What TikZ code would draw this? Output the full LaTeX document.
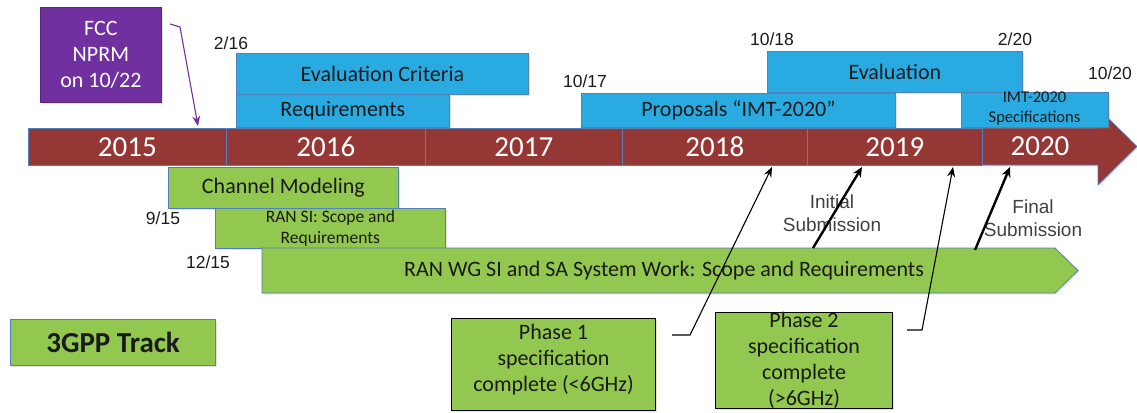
\documentclass[tikz,border=0pt]{standalone}
\usepackage{fontspec}
\setmainfont{Carlito}
\newfontfamily\arialf{Liberation Sans}
\usetikzlibrary{arrows.meta,shadows}
\definecolor{bbar}{HTML}{953735}
\definecolor{bblue}{HTML}{29ABE2}
\definecolor{bgreen}{HTML}{92C84F}
\definecolor{bpurple}{HTML}{7030A0}
\definecolor{edgeblue}{HTML}{4F81BD}
\definecolor{txt}{HTML}{1A1A1A}
\definecolor{gtxt}{HTML}{404040}
\begin{document}
\begin{tikzpicture}[x=1pt,y=-1pt,
  softshadow/.style={drop shadow={opacity=0.22, shadow xshift=1.5pt, shadow yshift=-1.5pt}},
  boxbase/.style={draw=edgeblue, line width=0.8pt, anchor=north west, inner sep=0pt, text=txt, align=center, font=\fontsize{22}{26}\selectfont, softshadow},
  bluebox/.style={boxbase, fill=bblue},
  greenbox/.style={boxbase, fill=bgreen},
  phasebox/.style={boxbase, fill=bgreen, draw=black, line width=1.1pt},
  yearseg/.style={draw=edgeblue, line width=0.6pt, fill=bbar, anchor=north west, inner sep=0pt, text=white, font=\fontsize{29}{30}\selectfont},
  datelab/.style={font=\arialf\fontsize{17.5}{20}\selectfont, text=txt, inner sep=0pt},
  sublab/.style={font=\arialf\fontsize{19}{23}\selectfont, text=gtxt, align=center, inner sep=0pt},
  thinarrow/.style={draw=black, line width=1.1pt, -{Stealth[length=10pt,width=8pt]}},
  thickarrow/.style={draw=black, line width=2.4pt, -{Stealth[length=10pt,width=9pt]}},
]
\useasboundingbox (0,0) rectangle (1137,412);

% timeline
\filldraw[fill=bbar, draw=edgeblue, line width=0.6pt, softshadow] (982,128) -- (1098,128) -- (1098,108) -- (1137,146.5) -- (1098,185) -- (1098,165) -- (982,165) -- cycle;
\node[yearseg, minimum width=198pt, minimum height=37pt] (y2015) at (28,128) {2015};
\node[yearseg, minimum width=199pt, minimum height=37pt] (y2016) at (226,128) {2016};
\node[yearseg, minimum width=197pt, minimum height=37pt] (y2017) at (425,128) {2017};
\node[yearseg, minimum width=185pt, minimum height=37pt] (y2018) at (622,128) {2018};
\node[yearseg, minimum width=175pt, minimum height=37pt] (y2019) at (807,128) {2019};
\node[text=white, font=\fontsize{29}{30}\selectfont, inner sep=0pt] (y2020) at (1040,146.5) {2020};

% FCC
\node[boxbase, fill=bpurple, draw=bpurple!80!black, text=white, minimum width=121pt, minimum height=95pt] (fcc) at (40,7) {FCC\\NPRM\\on 10/22};
\coordinate (fccA) at (170,24);
\coordinate (fccB) at (180,27);
\draw[draw=bpurple, line width=1.1pt, -{Stealth[length=10pt,width=8pt]}] (fccA) -- (fccB) -- (198,126);

% ITU track (blue)
\node[bluebox, minimum width=292pt, minimum height=41pt] (evalcrit) at (236,53) {Evaluation Criteria};
\node[bluebox, minimum width=213pt, minimum height=33pt] (req) at (236,94) {Requirements};
\node[bluebox, minimum width=314pt, minimum height=34pt] (prop) at (581,93) {Proposals “IMT-2020”};
\node[bluebox, minimum width=255pt, minimum height=41pt] (eval) at (767,51) {Evaluation};
\node[bluebox, minimum width=147pt, minimum height=35pt] (imtspec) at (961,92) {};
\node[text=txt, align=center, inner sep=0pt, font=\fontsize{16.5}{20}\selectfont] (imtspectxt) at (1034.5,108.5) {IMT-2020\\Specifications};

% dates
\node[datelab] (d216) at (231,43) {2/16};
\node[datelab] (d1017) at (585,81) {10/17};
\node[datelab] (d1018) at (772,39) {10/18};
\node[datelab] (d220) at (1015,39) {2/20};
\node[datelab] (d1020) at (1110,73) {10/20};
\node[datelab] (d915) at (163,218) {9/15};
\node[datelab] (d1215) at (208,262) {12/15};

% 3GPP track (green)
\node[greenbox, minimum width=230pt, minimum height=41pt] (chan) at (168,167) {Channel Modeling};
\node[greenbox, minimum width=230pt, minimum height=40pt, font=\fontsize{17.5}{21}\selectfont] (ransi) at (215,208) {RAN SI: Scope and\\Requirements};
\filldraw[fill=bgreen, draw=edgeblue, line width=0.8pt, softshadow] (262,248) -- (1055,248) -- (1078,270.5) -- (1055,293) -- (262,293) -- cycle;
\node[text=txt, font=\fontsize{22}{26}\selectfont, inner sep=0pt] (ranwg) at (664,271) {RAN WG SI and SA System Work: Scope and Requirements};

\node[greenbox, line width=1.3pt, minimum width=205pt, minimum height=46pt, font=\bfseries\fontsize{29}{32}\selectfont] (track) at (10,319) {3GPP Track};

\node[phasebox, minimum width=204pt, minimum height=92pt] (ph1) at (451,318) {\\[-20pt]Phase 1\\specification\\complete (<6GHz)};
\node[phasebox, minimum width=177pt, minimum height=94pt] (ph2) at (715,312) {Phase 2\\specification\\complete\\(>6GHz)};

% submission labels
\node[sublab] (initsub) at (832,213) {Initial\\Submission};
\node[sublab] (finsub) at (1033,218) {Final\\Submission};

% arrows
\coordinate (p1a) at (672,335);
\coordinate (p1b) at (690,335);
\coordinate (p1t) at (772,167);
\draw[thinarrow] (p1a) -- (p1b) -- (p1t);
\coordinate (p2a) at (907,330);
\coordinate (p2b) at (922,330);
\coordinate (p2t) at (953,167);
\draw[thinarrow] (p2a) -- (p2b) -- (p2t);
\coordinate (isa) at (813,248);
\coordinate (ist) at (862,167);
\draw[thickarrow] (isa) -- (ist);
\coordinate (fsa) at (975,250);
\coordinate (fst) at (1010,167);
\draw[thickarrow] (fsa) -- (fst);
\end{tikzpicture}
\end{document}
